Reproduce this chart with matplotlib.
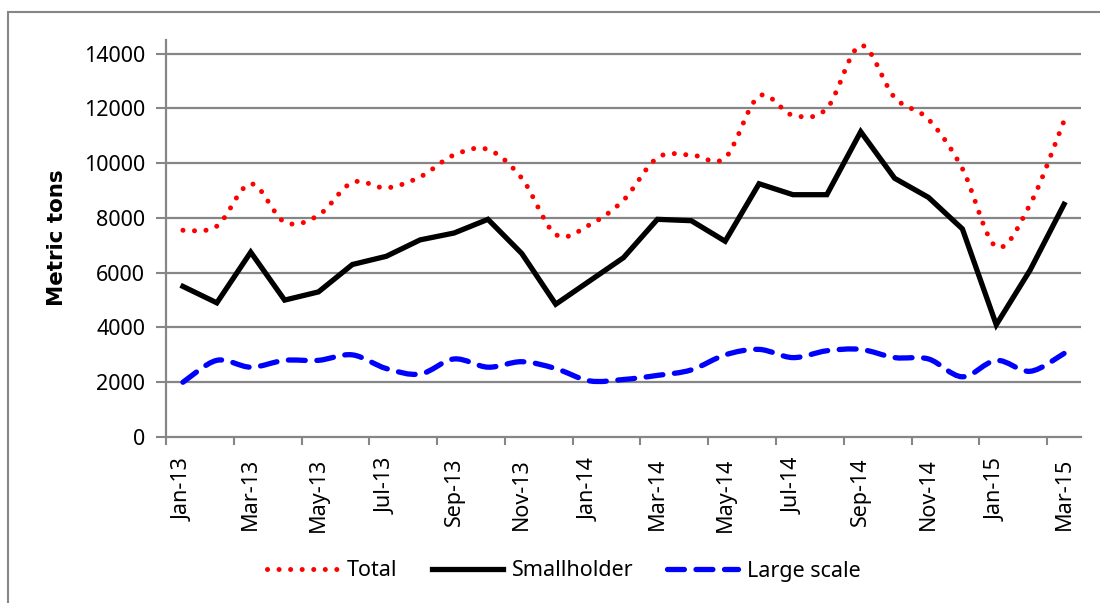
import matplotlib
matplotlib.use("Agg")
import matplotlib.pyplot as plt
import numpy as np
from matplotlib.path import Path
from matplotlib.patches import PathPatch, Rectangle
from matplotlib.lines import Line2D

months = ["Jan-13", "Feb-13", "Mar-13", "Apr-13", "May-13", "Jun-13", "Jul-13", "Aug-13",
          "Sep-13", "Oct-13", "Nov-13", "Dec-13", "Jan-14", "Feb-14", "Mar-14", "Apr-14",
          "May-14", "Jun-14", "Jul-14", "Aug-14", "Sep-14", "Oct-14", "Nov-14", "Dec-14",
          "Jan-15", "Feb-15", "Mar-15"]
total = [7550, 7700, 9250, 7850, 8100, 9300, 9100, 9500, 10300, 10500, 9450, 7400,
         7750, 8650, 10200, 10300, 10200, 12450, 11750, 12000, 14300, 12400, 11600, 9800,
         6950, 8500, 11550]
smallholder = [5500, 4900, 6750, 5000, 5300, 6300, 6600, 7200, 7450, 7950, 6700, 4850,
               5700, 6550, 7950, 7900, 7150, 9250, 8850, 8850, 11150, 9450, 8750, 7600,
               4100, 6100, 8500]
large_scale = [2000, 2800, 2550, 2800, 2800, 3000, 2500, 2300, 2850, 2550, 2750, 2500,
               2050, 2100, 2250, 2450, 3000, 3200, 2900, 3150, 3200, 2900, 2850, 2200,
               2800, 2400, 3050]
y_ticks = [0, 2000, 4000, 6000, 8000, 10000, 12000, 14000]

plt.rcParams["font.family"] = ["Noto Sans", "DejaVu Sans"]

fig = plt.figure(figsize=(11, 6.03), dpi=100)
W, H = 1100, 603
ax = fig.add_axes([166 / W, 1 - 437 / H, (1081 - 166) / W, 397 / H])

# chart border
fig.patches.append(Rectangle((8 / W, -0.05), 1.2, (603 - 12) / H + 0.05,
                             transform=fig.transFigure, fill=False,
                             edgecolor="#868686", linewidth=1.5))

x = np.arange(len(months))


def smooth_path(xs, ys):
    pts = np.column_stack([xs, ys]).astype(float)
    n = len(pts)
    verts = [pts[0]]
    codes = [Path.MOVETO]
    for i in range(n - 1):
        p0 = pts[i - 1] if i > 0 else pts[i]
        p1 = pts[i]
        p2 = pts[i + 1]
        p3 = pts[i + 2] if i + 2 < n else pts[i + 1]
        c1 = p1 + (p2 - p0) / 6.0
        c2 = p2 - (p3 - p1) / 6.0
        verts += [c1, c2, p2]
        codes += [Path.CURVE4] * 3
    return Path(verts, codes)


# gridlines
for t in y_ticks[1:]:
    ax.axhline(t, color="#868686", linewidth=1.6, zorder=0)

ax.add_patch(PathPatch(smooth_path(x, total), fill=False, edgecolor="#ff0000",
                       linewidth=3.6, linestyle=(0, (0.01, 2.3)), capstyle="round", zorder=3))
ax.plot(x, smallholder, color="black", linewidth=3.8, solid_joinstyle="miter", zorder=4)
ax.add_patch(PathPatch(smooth_path(x, large_scale), fill=False, edgecolor="#0000ff",
                       linewidth=3.8, linestyle=(0, (3.2, 2.2)), capstyle="round", zorder=3))

FS = 15.5
ax.set_xlim(-0.5, len(months) - 0.5)
ax.set_ylim(0, 14500)
ax.set_yticks(y_ticks)
ax.set_yticklabels([str(t) for t in y_ticks], fontsize=FS)
ax.set_xticks(x[::2])
ax.set_xticklabels(months[::2], rotation=90, fontsize=FS)
ax.set_xticks(np.arange(-0.5, len(months), 2), minor=True)
ax.tick_params(axis="x", which="major", length=0, pad=15)
ax.tick_params(axis="x", which="minor", length=6, width=1.5, color="#868686", direction="out")
ax.tick_params(axis="y", length=7, width=1.5, color="#868686", pad=8)

for s in ["top", "right"]:
    ax.spines[s].set_visible(False)
for s in ["left", "bottom"]:
    ax.spines[s].set_color("#868686")
    ax.spines[s].set_linewidth(1.6)

fig.text(57 / W, 1 - 238 / H, "Metric tons", rotation=90, ha="center", va="center",
         fontsize=15.4, fontweight="bold", family=["DejaVu Sans"])

handles = [
    Line2D([], [], color="#ff0000", linewidth=3.6, linestyle=(0, (0.01, 2.3)), dash_capstyle="round"),
    Line2D([], [], color="black", linewidth=3.8),
    Line2D([], [], color="#0000ff", linewidth=3.8, linestyle=(0, (3.2, 2.2)), dash_capstyle="round"),
]
fig.legend(handles, ["Total", "Smallholder", "Large scale"], loc="center",
           bbox_to_anchor=(564 / W, 1 - 571 / H), ncol=3, frameon=False, fontsize=FS,
           handlelength=3.3, handletextpad=0.42, columnspacing=1.58)

fig.savefig("out.png", dpi=100, facecolor="white")
